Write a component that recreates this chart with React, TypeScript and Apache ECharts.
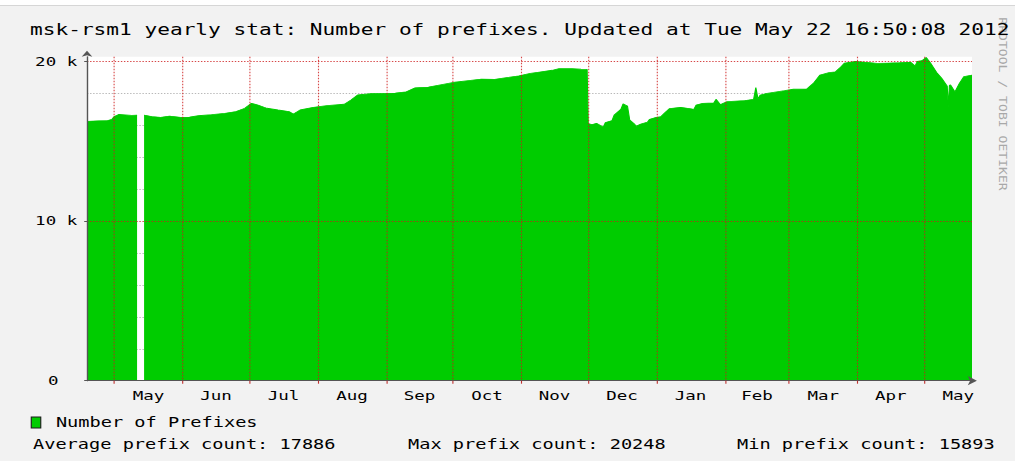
import React, { useEffect, useRef } from 'react';
import * as echarts from 'echarts';

// The reference picture is a horizontally stretched RRDtool graph: draw at a
// narrower width and stretch the whole chart horizontally.
const SX = 1.4;
const W = 1015;
const H = 461;
const CW = W / SX;
const FONT = '"DejaVu Sans Mono", monospace';

const TITLE = 'msk-rsm1 yearly stat: Number of prefixes. Updated at Tue May 22 16:50:08 2012';
const SERIES_NAME = 'Number of Prefixes';
const WATERMARK = 'RRDTOOL / TOBI OETIKER';
const STAT_LABELS = ['Average prefix count:', 'Max prefix count:', 'Min prefix count:'];
const STAT_VALUES = [17886, 20248, 15893];

const MONTH_NAMES = ['Jan', 'Feb', 'Mar', 'Apr', 'May', 'Jun', 'Jul', 'Aug', 'Sep', 'Oct', 'Nov', 'Dec'];
const X_MIN = '2011-04-18 16:50';
const X_MAX = '2012-05-22 16:50';
const MONTH_STARTS = [
  '2011-05-01', '2011-06-01', '2011-07-01', '2011-08-01', '2011-09-01', '2011-10-01',
  '2011-11-01', '2011-12-01', '2012-01-01', '2012-02-01', '2012-03-01', '2012-04-01', '2012-05-01',
];
const MONTH_LABEL_AT = [
  '2011-05-16 12:00', '2011-06-16 00:00', '2011-07-16 12:00', '2011-08-16 12:00', '2011-09-16 00:00',
  '2011-10-16 12:00', '2011-11-16 00:00', '2011-12-16 12:00', '2012-01-16 12:00', '2012-02-15 12:00',
  '2012-03-16 12:00', '2012-04-16 00:00', '2012-05-16 12:00',
];

const Y_MAX = 20300;
const Y_MAJOR = [0, 10000, 20000];
const Y_MINOR = [2000, 4000, 6000, 8000, 12000, 14000, 16000, 18000];

const DATES = [
  '2011-04-18 17:00', '2011-04-24', '2011-04-28', '2011-04-30', '2011-05-01', '2011-05-03',
  '2011-05-06', '2011-05-09', '2011-05-11 08:00', '2011-05-13', '2011-05-14 12:00', '2011-05-18',
  '2011-05-22', '2011-05-26', '2011-05-31', '2011-06-04', '2011-06-08', '2011-06-14',
  '2011-06-20', '2011-06-25', '2011-06-29', '2011-07-02', '2011-07-05', '2011-07-09',
  '2011-07-14', '2011-07-19', '2011-07-21', '2011-07-24', '2011-07-30', '2011-08-05',
  '2011-08-13', '2011-08-16', '2011-08-19', '2011-08-26', '2011-09-05', '2011-09-10',
  '2011-09-14', '2011-09-20', '2011-09-26', '2011-10-02', '2011-10-08', '2011-10-14',
  '2011-10-20', '2011-10-26', '2011-10-31', '2011-11-05', '2011-11-10', '2011-11-15',
  '2011-11-18', '2011-11-24', '2011-11-28', '2011-11-30 18:00', '2011-12-01 06:00', '2011-12-03',
  '2011-12-05', '2011-12-08', '2011-12-09', '2011-12-12', '2011-12-13', '2011-12-16',
  '2011-12-17', '2011-12-19', '2011-12-20', '2011-12-22', '2011-12-23', '2011-12-25',
  '2011-12-28', '2011-12-29', '2012-01-01', '2012-01-03', '2012-01-05', '2012-01-07',
  '2012-01-12', '2012-01-16', '2012-01-18', '2012-01-19', '2012-01-22', '2012-01-27',
  '2012-01-28', '2012-01-30', '2012-02-02', '2012-02-10', '2012-02-14', '2012-02-15',
  '2012-02-16', '2012-02-17', '2012-02-20', '2012-02-28', '2012-03-03', '2012-03-09',
  '2012-03-12', '2012-03-15', '2012-03-19', '2012-03-22', '2012-03-24', '2012-03-26',
  '2012-03-31', '2012-04-05', '2012-04-10', '2012-04-15', '2012-04-20', '2012-04-25',
  '2012-04-27', '2012-04-28', '2012-04-30', '2012-05-02', '2012-05-04', '2012-05-07',
  '2012-05-09', '2012-05-11 12:00', '2012-05-12', '2012-05-12 12:00', '2012-05-13', '2012-05-15',
  '2012-05-17', '2012-05-19', '2012-05-22 16:50',
];
const PREFIXES: (number | null)[] = [
  16250, 16280, 16300, 16380, 16550, 16680,
  16650, 16620, 16640, null, 16640, 16550,
  16500, 16580, 16500, 16520, 16600, 16670,
  16750, 16860, 17070, 17380, 17270, 17070,
  16960, 16860, 16710, 16960, 17130, 17230,
  17320, 17590, 17900, 18000, 18020, 18100,
  18350, 18400, 18550, 18700, 18800, 18900,
  18880, 19000, 19100, 19250, 19350, 19450,
  19550, 19550, 19520, 19500, 16100, 16050,
  16130, 15893, 16170, 16300, 16650, 17000,
  17340, 17200, 16330, 16100, 15950, 16080,
  16200, 16380, 16500, 16540, 16800, 17050,
  17130, 17050, 17000, 17270, 17380, 17400,
  17630, 17300, 17480, 17550, 17630, 18360,
  17650, 17900, 18000, 18170, 18260, 18280,
  18630, 19150, 19300, 19350, 19600, 19890,
  20000, 19950, 19880, 19900, 19920, 19950,
  19720, 20000, 20050, 20248, 19900, 19260,
  18950, 18450, 17170, 18500, 18530, 18100,
  18630, 19050, 19150,
];

function ts(s: string): number {
  const [d, t] = s.split(' ');
  const [y, m, dd] = d.split('-').map(Number);
  const [hh, mm] = t ? t.split(':').map(Number) : [0, 0];
  return new Date(y, m - 1, dd, hh, mm).getTime();
}

export default function App() {
  const ref = useRef<HTMLDivElement>(null);

  useEffect(() => {
    if (!ref.current) return;
    const chart = echarts.init(ref.current, null, { renderer: 'svg' });
    const majorColor = 'rgba(205, 25, 25, 0.8)';
    const option: any = {
      animation: false,
      backgroundColor: 'transparent',
      title: {
        text: TITLE,
        left: 30 / SX,
        top: 22,
        padding: 0,
        textStyle: { fontFamily: FONT, fontSize: 15.1, fontWeight: 'normal', color: '#000' },
      },
      legend: {
        data: [SERIES_NAME],
        left: 30.7 / SX,
        top: 416,
        padding: 0,
        icon: 'rect',
        itemWidth: 9.5 / SX,
        itemHeight: 11,
        selectedMode: false,
        itemStyle: { color: '#00cc00', borderColor: '#1a1a1a', borderWidth: 0.8 },
        formatter: '{t|{name}}',
        textStyle: {
          fontFamily: FONT,
          fontSize: 13.3,
          color: '#000',
          rich: { t: { fontFamily: FONT, fontSize: 13.3, color: '#000', padding: [0, 0, 0, 5.8] } },
        },
      },
      grid: {
        left: 87 / SX,
        right: CW - 972 / SX,
        top: 56.7,
        bottom: H - 380.7,
        show: true,
        backgroundColor: '#ffffff',
        borderWidth: 0,
      },
      xAxis: {
        type: 'value',
        min: ts(X_MIN),
        max: ts(X_MAX),
        z: 3,
        axisLine: {
          show: true,
          lineStyle: { color: '#555555', width: 1 },
          symbol: ['none', 'arrow'],
          symbolSize: [7, 6.5],
          symbolOffset: [0, 3.5],
        },
        axisTick: {
          show: true,
          length: 3,
          lineStyle: { color: '#c03030', width: 0.8 },
          customValues: MONTH_STARTS.map(ts),
        },
        axisLabel: {
          show: true,
          margin: 9,
          fontFamily: FONT,
          fontSize: 12.5,
          color: '#000',
          hideOverlap: false,
          showMinLabel: true,
          showMaxLabel: true,
          customValues: MONTH_LABEL_AT.map(ts),
          formatter: (v: number) => MONTH_NAMES[new Date(v).getMonth()],
        },
        splitLine: {
          show: true,
          lineStyle: { color: majorColor, width: 0.8, type: [1.5, 1.5] },
        },
      },
      yAxis: [
        {
          type: 'value',
          min: 0,
          max: Y_MAX,
          z: 3,
          position: 'left',
          axisLine: {
            show: true,
            lineStyle: { color: '#555555', width: 1 },
            symbol: ['none', 'arrow'],
            symbolSize: [5.7, 6],
            symbolOffset: [0, 6],
          },
          axisTick: {
            show: true,
            length: 2,
            lineStyle: { color: '#555555' },
            customValues: Y_MAJOR,
          },
          axisLabel: {
            margin: 7,
            fontFamily: FONT,
            fontSize: 12.5,
            color: '#000',
            customValues: Y_MAJOR,
            formatter: (v: number) => (v === 0 ? '{z|0}' : `${v / 1000} k`),
            rich: { z: { fontFamily: FONT, fontSize: 12.5, color: '#000', padding: [0, 13.4, 0, 0] } },
          },
          splitLine: {
            show: true,
            lineStyle: { color: majorColor, width: 1, type: [1, 1.2] },
          },
        },
        {
          type: 'value',
          min: 0,
          max: Y_MAX,
          z: 1,
          position: 'left',
          axisLine: { show: false },
          axisTick: { show: false, customValues: Y_MINOR },
          axisLabel: { show: false, customValues: Y_MINOR },
          splitLine: {
            show: true,
            lineStyle: { color: '#b8b8b8', width: 1, type: [1, 1.2] },
          },
        },
      ],
      series: [
        {
          name: SERIES_NAME,
          type: 'line',
          yAxisIndex: 0,
          z: 2,
          silent: true,
          symbol: 'none',
          showSymbol: false,
          connectNulls: false,
          color: '#00cc00',
          itemStyle: { color: '#00cc00' },
          lineStyle: { color: '#00cc00', width: 0.8 },
          areaStyle: { color: '#00cc00', opacity: 1 },
          data: DATES.map((d, i) => [ts(d), PREFIXES[i] === null ? '-' : PREFIXES[i]]),
        },
      ],
      graphic: [
        ...STAT_LABELS.map((label, i) => ({
          type: 'text',
          x: [33, 408, 737][i] / SX,
          y: 444,
          silent: true,
          style: {
            text: `${label} ${STAT_VALUES[i]}`,
            font: `13.3px ${FONT}`,
            fill: '#000',
            align: 'left',
            verticalAlign: 'middle',
            textAlign: 'left',
            textVerticalAlign: 'middle',
          },
        })),
        {
          type: 'text',
          x: 1003 / SX,
          y: 104,
          rotation: -Math.PI / 2,
          scaleX: 1.31,
          scaleY: 0.81,
          silent: true,
          style: {
            text: WATERMARK,
            font: `10px ${FONT}`,
            fill: '#a8a8a8',
            align: 'center',
            verticalAlign: 'middle',
            textAlign: 'center',
            textVerticalAlign: 'middle',
          },
        },
      ],
    };
    chart.setOption(option);
    return () => chart.dispose();
  }, []);

  return (
    <div
      style={{
        position: 'fixed',
        left: 0,
        top: 0,
        width: W,
        height: H,
        overflow: 'hidden',
        background: 'linear-gradient(#ffffff 0px, #ffffff 5px, #d6d6d6 5px, #d6d6d6 6px, #f2f2f2 6px)',
      }}
    >
      <div
        ref={ref}
        style={{ width: CW, height: H, transform: `scaleX(${SX})`, transformOrigin: '0 0' }}
      />
    </div>
  );
}
